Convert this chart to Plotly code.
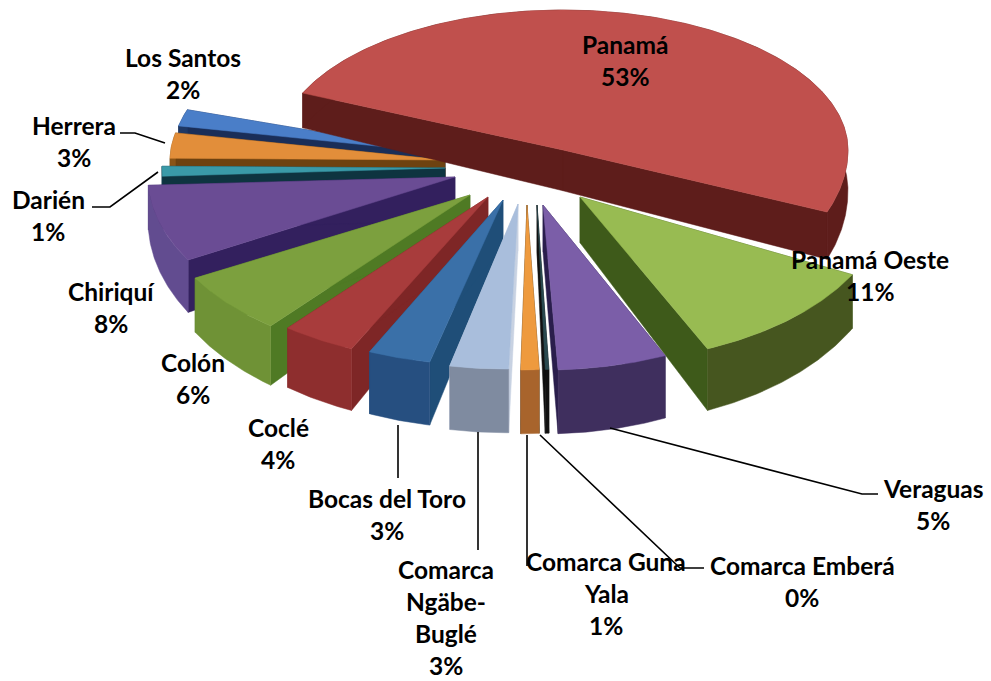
import numpy as np
import plotly.graph_objects as go

categories = ["Panamá", "Panamá Oeste", "Veraguas", "Comarca Emberá", "Comarca Guna Yala",
              "Comarca Ngäbe-Buglé", "Bocas del Toro", "Coclé", "Colón", "Chiriquí",
              "Darién", "Herrera", "Los Santos"]
values = [52.8, 10.8, 5.0, 0.2, 1.0, 3.2, 3.4, 4.0, 6.2, 7.6, 1.0, 2.9, 1.9]
percent_labels = ["53%", "11%", "5%", "0%", "1%", "3%", "3%", "4%", "6%", "8%", "1%", "3%", "2%"]
label_lines = [["Panamá"], ["Panamá Oeste"], ["Veraguas"], ["Comarca Emberá"], ["Comarca Guna", "Yala"],
               ["Comarca", "Ngäbe-", "Buglé"], ["Bocas del Toro"], ["Coclé"], ["Colón"], ["Chiriquí"],
               ["Darién"], ["Herrera"], ["Los Santos"]]

# layout: page is mapped 1:1 onto the axes
W, H = 991, 681
START = 288.0
RX, RY_FRONT, RY_BACK = 295.0, 165.0, 140.0
apex = [(563, 150), (580, 197), (543, 205), (537, 205), (527, 205), (518, 204), (503, 200),
        (488, 197), (470, 195), (455, 177), (445, 168), (445, 160), (445, 153)]
rim_dx = [0, 12, 2, -14, -10, -13, -18, -21, -20, -12, 12, 20, 23]
rx_scale = [0.966, 1, 1, 1, 1, 1, 1, 1, 1, 1, 1, 1, 1]
edge_trim = [(6, -6), (0, 0), (-1, 2.5)] + [(0, 0)] * 10
label_xy = [(625, 44), (870, 259), (933, 488), (802, 565), (606, 561), (446, 569), (387, 498),
            (278, 427), (193, 362), (111, 291), (48, 199), (74, 125), (183, 57)]
leaders = [None, None, [(610, 428), (862, 494), (878, 494)], [(540, 435), (680, 568), (704, 568)],
           [(527, 435), (527, 566)], [(478, 432), (478, 550)], [(398, 425), (398, 478)], None, None, None,
           [(158, 172), (110, 207), (92, 207)], [(165, 143), (135, 133), (120, 133)], None]
top_col = ["#C0504D", "#98BB52", "#7B5EA8", "#2A4A50", "#EE9A3E", "#A9BEDC", "#3A70A8", "#A83C3C",
           "#7CA03E", "#6A4C94", "#3A9AA8", "#E28E3A", "#4A7EC8"]
rim_col = ["#5E1D1B", "#46561F", "#3F2F5E", "#111111", "#A8642C", "#7F8BA0", "#264F80", "#8E2E2E",
           "#6F9236", "#624C90", "#103C4C", "#8A5416", "#1F3864"]
rad_col = ["#5E1D1B", "#3E5A1A", "#2A1E4C", "#111111", "#3A2A14", "#C8D2E2", "#1F4E78", "#7E2626",
           "#4F7A24", "#33205E", "#0E3440", "#6E4210", "#1A2E58"]
draw_order = [12, 11, 10, 9, 0, 8, 7, 6, 5, 1, 3, 2, 4]


def depth(y):
    return 25 + 0.105 * np.asarray(y, dtype=float)


def rim(i, deg):
    t = np.radians(deg)
    ry = np.where(np.cos(t) < 0, RY_FRONT, RY_BACK)
    ax, ay = apex[i]
    return ax + rim_dx[i] + RX * rx_scale[i] * np.sin(t), ay - ry * np.cos(t)


def poly(fig, x, y, color):
    fig.add_trace(go.Scatter(x=list(x) + [x[0]], y=list(y) + [y[0]], mode="lines", fill="toself",
                             fillcolor=color, line=dict(color=color, width=0.5),
                             hoverinfo="skip", showlegend=False))


total = sum(values)
edges = START + np.concatenate([[0], np.cumsum(values)]) * 360.0 / total

fig = go.Figure()
for i in draw_order:
    ax, ay = apex[i]
    a0, a1 = edges[i] + edge_trim[i][0], edges[i + 1] + edge_trim[i][1]
    ang = np.linspace(a0, a1, max(8, int(a1 - a0) * 2))
    rx, ry = rim(i, ang)
    dz = depth(ry)
    dz0 = float(depth(ay))
    for k in (0, -1):
        poly(fig, [ax, rx[k], rx[k], ax], [ay, ry[k], ry[k] + dz[k], ay + dz0], rad_col[i])
    poly(fig, np.r_[rx, rx[::-1]], np.r_[ry, (ry + dz)[::-1]], rim_col[i])
    poly(fig, np.r_[ax, rx], np.r_[ay, ry], top_col[i])

for seg in leaders:
    if seg:
        xs, ys = zip(*seg)
        fig.add_trace(go.Scatter(x=xs, y=ys, mode="lines", line=dict(color="black", width=1.6),
                                 hoverinfo="skip", showlegend=False))

LINE_H = 32.3
for lines, pct, (lx, ly) in zip(label_lines, percent_labels, label_xy):
    for j, txt in enumerate(lines + [pct]):
        fig.add_annotation(x=lx, y=ly + j * LINE_H, text=f"<b>{txt}</b>", showarrow=False,
                           font=dict(family="Lato", size=24.5, color="black"),
                           xanchor="center", yanchor="middle")

fig.update_layout(width=W, height=H, margin=dict(l=0, r=0, t=0, b=0), showlegend=False,
                  paper_bgcolor="white", plot_bgcolor="white",
                  xaxis=dict(range=[0, W], visible=False, fixedrange=True),
                  yaxis=dict(range=[H, 0], visible=False, fixedrange=True))
fig.write_html("out.html", config={"displayModeBar": False}, post_script="document.body.style.margin='0';")
